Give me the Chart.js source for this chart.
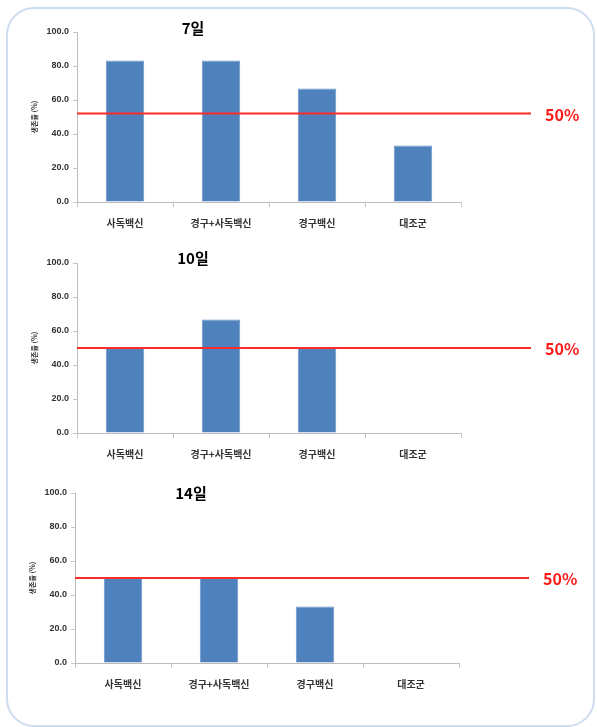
<!DOCTYPE html>
<html>
<head>
<meta charset="utf-8">
<script src="https://cdn.jsdelivr.net/npm/chart.js@4/dist/chart.umd.min.js"></script>
<style>
    html, body { margin: 0; padding: 0; background: #fff; }
    body { width: 597px; height: 727px; position: relative; overflow: hidden; }
    .frame {
        position: absolute; left: 6px; top: 7px; width: 585px; height: 716px;
        border: 2px solid #cddcef; border-radius: 28px;
    }
    .panel { position: absolute; width: 597px; height: 240px; }
    .panel canvas { width: 597px !important; height: 240px !important; }
</style>
</head>
<body>
<div class="frame"></div>
<div class="panel" style="left:0;top:0"><canvas id="chart7"></canvas></div>
<div class="panel" style="left:0;top:231px"><canvas id="chart10"></canvas></div>
<div class="panel" style="left:-2px;top:461px"><canvas id="chart14"></canvas></div>

<script>
// Survival rate data (%)
const categories = ['사독백신', '경구+사독백신', '경구백신', '대조군'];
const day7 = [83.3, 83.3, 66.7, 33.3];
const day10 = [50.0, 66.7, 50.0, 0];
const day14 = [50.0, 50.0, 33.3, 0];
const panelTitles = ['7일', '10일', '14일'];
const refValues = [52, 50, 50];
const refLabel = '50%';
const yTicks = [0, 20, 40, 60, 80, 100];

const FONT = "'Noto Sans CJK KR', 'Noto Sans', sans-serif";

// draws the panel title and the red reference line
const refLinePlugin = {
    id: 'refLine',
    afterDatasetsDraw(chart, args, opts) {
        const ctx = chart.ctx;
        const y = chart.scales.y.getPixelForValue(opts.value);
        ctx.save();
        ctx.strokeStyle = '#ff2b2b';
        ctx.lineWidth = 2;
        ctx.beginPath();
        ctx.moveTo(chart.chartArea.left, y);
        ctx.lineTo(opts.endX, y);
        ctx.stroke();

        ctx.fillStyle = '#ff1a1a';
        ctx.font = 'bold 16px ' + FONT;
        ctx.textAlign = 'left';
        ctx.textBaseline = 'middle';
        ctx.fillText(opts.label, opts.endX + 14, y + 1);

        ctx.fillStyle = '#000';
        ctx.font = 'bold 15px ' + FONT;
        ctx.textAlign = 'center';
        ctx.fillText(opts.title, opts.titleX, opts.titleY);
        ctx.restore();
    }
};

function makeChart(id, values, idx, titleY) {
    const ctx = document.getElementById(id).getContext('2d');
    return new Chart(ctx, {
        type: 'bar',
        data: {
            labels: categories,
            datasets: [{
                data: values,
                backgroundColor: '#4f81bd',
                borderColor: '#6b96cc',
                borderWidth: 1,
                barPercentage: 0.4,
                categoryPercentage: 1.0
            }]
        },
        plugins: [refLinePlugin],
        options: {
            responsive: false,
            animation: false,
            layout: {
                padding: { left: 28, right: 136, top: 32, bottom: 0 }
            },
            plugins: {
                legend: { display: false },
                tooltip: { enabled: false },
                refLine: {
                    value: refValues[idx],
                    endX: 531,
                    label: refLabel,
                    title: panelTitles[idx],
                    titleX: 193,
                    titleY: titleY
                }
            },
            scales: {
                x: {
                    offset: true,
                    grid: {
                        offset: true,
                        drawOnChartArea: false,
                        tickLength: 5,
                        color: '#c8c8c8'
                    },
                    border: { color: '#bdbdbd', width: 1 },
                    ticks: {
                        color: '#333',
                        padding: 10,
                        font: { family: FONT, size: 10, weight: 'bold' }
                    },
                    afterFit(scale) { scale.height = 38; }
                },
                y: {
                    min: 0,
                    max: 100,
                    afterBuildTicks(scale) {
                        scale.ticks = yTicks.map(v => ({ value: v }));
                    },
                    grid: {
                        drawOnChartArea: false,
                        tickLength: 4,
                        color: '#c8c8c8'
                    },
                    border: { color: '#bdbdbd', width: 1 },
                    ticks: {
                        color: '#333',
                        padding: 4,
                        font: { family: "'Liberation Sans', Arial, sans-serif", size: 9, weight: 'bold' },
                        callback: v => Number(v).toFixed(1)
                    },
                    title: {
                        display: true,
                        text: '생존율 (%)',
                        color: '#333',
                        padding: 2,
                        font: { family: FONT, size: 7, weight: 'bold' }
                    },
                    afterFit(scale) { scale.width = 49; }
                }
            }
        }
    });
}

document.addEventListener('DOMContentLoaded', function() {
    ['chart7', 'chart10', 'chart14'].forEach(id => {
        const c = document.getElementById(id);
        c.width = 597;
        c.height = 240;
    });
    makeChart('chart7', day7, 0, 28);
    makeChart('chart10', day10, 1, 27);
    makeChart('chart14', day14, 2, 32);
});
</script>
</body>
</html>
